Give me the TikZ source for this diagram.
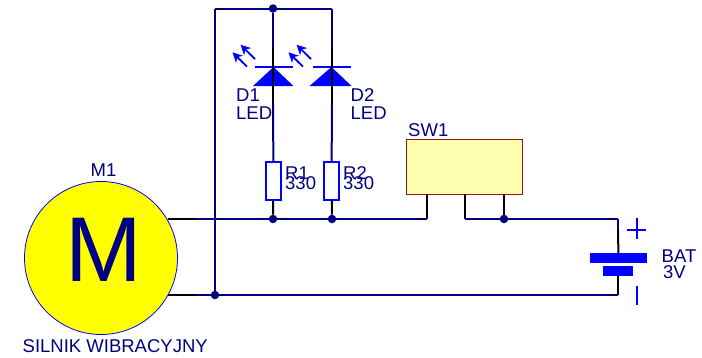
\documentclass[tikz,border=0pt]{standalone}
\usepackage{fontspec}
\usetikzlibrary{arrows.meta}
\setmainfont{Liberation Sans}
\definecolor{wirenavy}{HTML}{000080}
\definecolor{partblue}{HTML}{0000FF}
\definecolor{motorfill}{HTML}{FFFF00}
\definecolor{swfill}{HTML}{FFFFB0}
\definecolor{swline}{HTML}{A01010}
\begin{document}
\begin{tikzpicture}[x=1pt,y=-1pt]
\tikzset{wire/.style = {draw=wirenavy,line width=2pt}}
\tikzset{lead/.style = {draw=black,line width=2pt}}
\tikzset{joint/.style = {shape=circle,fill=wirenavy,inner sep=0pt,minimum size=8.5pt}}
\tikzset{tag/.style = {anchor=base west,inner sep=0pt,text=wirenavy,font=\fontsize{18.5}{18.5}\selectfont}}
\tikzset{ledbar/.style = {shape=rectangle,fill=partblue,inner sep=0pt,minimum width=38pt,minimum height=2pt}}
\tikzset{ledray/.style = {draw=partblue,line width=1.8pt,-{Stealth[length=10pt,width=10pt]}}}
\tikzset{resistor/.style = {shape=rectangle,draw=partblue,fill=white,line width=1.8pt,inner sep=0pt,minimum width=15pt,minimum height=38pt}}
\tikzset{plate/.style = {shape=rectangle,fill=partblue,inner sep=0pt}}
\useasboundingbox (0,0) rectangle (702,357);

% motor
\node[shape=circle,draw=partblue,fill=motorfill,line width=.8pt,inner sep=0pt,minimum size=153pt] (m1) at (101,258) {};
\node[inner sep=0pt,text=wirenavy,font=\fontsize{92}{92}\selectfont] (mletter) at (103.5,249.5) {M};
\coordinate (mtop) at (168,219);
\coordinate (mbot) at (168,295);
\coordinate (mtopend) at (196,219);
\coordinate (mbotend) at (196,295);

% junctions
\node[joint] (jtop) at (273,8.5) {};
\node[joint] (jleft) at (215,295) {};
\node[joint] (jr1) at (273,219) {};
\node[joint] (jr2) at (332,219) {};
\node[joint] (jsw) at (504,219) {};
\coordinate (topleft) at (215,9);
\coordinate (topright) at (332,9);

% leds
\node[ledbar] (d1bar) at (273.5,66.7) {};
\node[ledbar] (d2bar) at (331.5,66.7) {};
\fill[partblue] (253,86) -- (273.5,67) -- (293.5,86) -- cycle;
\fill[partblue] (309.5,86) -- (331.5,67) -- (351.5,86) -- cycle;
\coordinate (d1in) at (273,48);
\coordinate (d2in) at (332,48);
\coordinate (d1out) at (273,103);
\coordinate (d2out) at (332,103);
\coordinate (d1rayaa) at (247,66.7);
\coordinate (d1rayab) at (232.5,52.3);
\coordinate (d1rayba) at (255,59);
\coordinate (d1rayda) at (240.5,44.7);
\coordinate (d2rayaa) at (303,66.7);
\coordinate (d2rayab) at (288.5,52.3);
\coordinate (d2rayba) at (311,59);
\coordinate (d2rayda) at (296.5,44.7);
\draw[ledray] (d1rayaa) to (d1rayab);
\draw[ledray] (d1rayba) to (d1rayda);
\draw[ledray] (d2rayaa) to (d2rayab);
\draw[ledray] (d2rayba) to (d2rayda);

% resistors
\node[resistor] (r1) at (273.5,181) {};
\node[resistor] (r2) at (331.5,181) {};

% switch
\node[shape=rectangle,draw=swline,fill=swfill,line width=1.2pt,inner sep=0pt,minimum width=116pt,minimum height=54.5pt] (sw1) at (464.5,167) {};
\coordinate (swa) at (427,194);
\coordinate (swb) at (465,194);
\coordinate (swc) at (504,194);
\coordinate (swaend) at (427,219);
\coordinate (swbend) at (465,219);

% battery
\node[plate,minimum width=57pt,minimum height=10pt] (batp) at (618.5,258) {};
\node[plate,minimum width=30pt,minimum height=10pt] (batn) at (618,271) {};
\coordinate (battop) at (618,219);
\coordinate (batpin) at (618,230);
\coordinate (batbot) at (618,295);
\coordinate (plusl) at (627,230);
\coordinate (plusr) at (646,230);
\coordinate (plust) at (637,218);
\coordinate (plusb) at (637,239);
\coordinate (minust) at (637,286);
\coordinate (minusb) at (637,305);

% wires
\draw[wire] (jtop) to (d1in);
\draw[wire] (topleft) to (topright);
\draw[wire] (topleft) to (jleft);
\draw[wire] (topright) to (d2in);
\draw[wire] (d1out) to (r1);
\draw[wire] (d2out) to (r2);
\draw[wire] (mtopend) to (swaend);
\draw[wire] (mbotend) to (batbot);
\draw[wire] (swbend) to (battop);
\draw[wire] (battop) to (batpin);

% leads
\draw[lead] (mtop) to (mtopend);
\draw[lead] (mbot) to (mbotend);
\draw[lead] (d1in) to (d1out);
\draw[lead] (d2in) to (d2out);
\draw[lead] (r1) to (jr1);
\draw[lead] (r2) to (jr2);
\draw[lead] (swa) to (swaend);
\draw[lead] (swb) to (swbend);
\draw[lead] (swc) to (jsw);
\draw[lead] (batpin) to (batp);
\draw[lead] (batn) to (batbot);

% plus and minus
\draw[draw=partblue,line width=1.8pt] (plusl) to (plusr);
\draw[draw=partblue,line width=1.8pt] (plust) to (plusb);
\draw[draw=partblue,line width=1.8pt] (minust) to (minusb);

% labels
\node[tag] (m1name) at (90.5,176) {M1};
\node[tag] (m1value) at (22.5,352.5) {SILNIK WIBRACYJNY};
\node[tag] (d1name) at (236,101) {D1};
\node[tag] (d1value) at (236,119) {LED};
\node[tag] (d2name) at (350.5,101) {D2};
\node[tag] (d2value) at (350.5,119) {LED};
\node[tag] (r1name) at (285,179) {R1};
\node[tag] (r1value) at (285,189.5) {330};
\node[tag] (r2name) at (343,179) {R2};
\node[tag] (r2value) at (343,189.5) {330};
\node[tag] (sw1name) at (408,136) {SW1};
\node[tag] (batname) at (661.5,262) {BAT};
\node[tag] (batvalue) at (663,278) {3V};
\end{tikzpicture}
\end{document}
